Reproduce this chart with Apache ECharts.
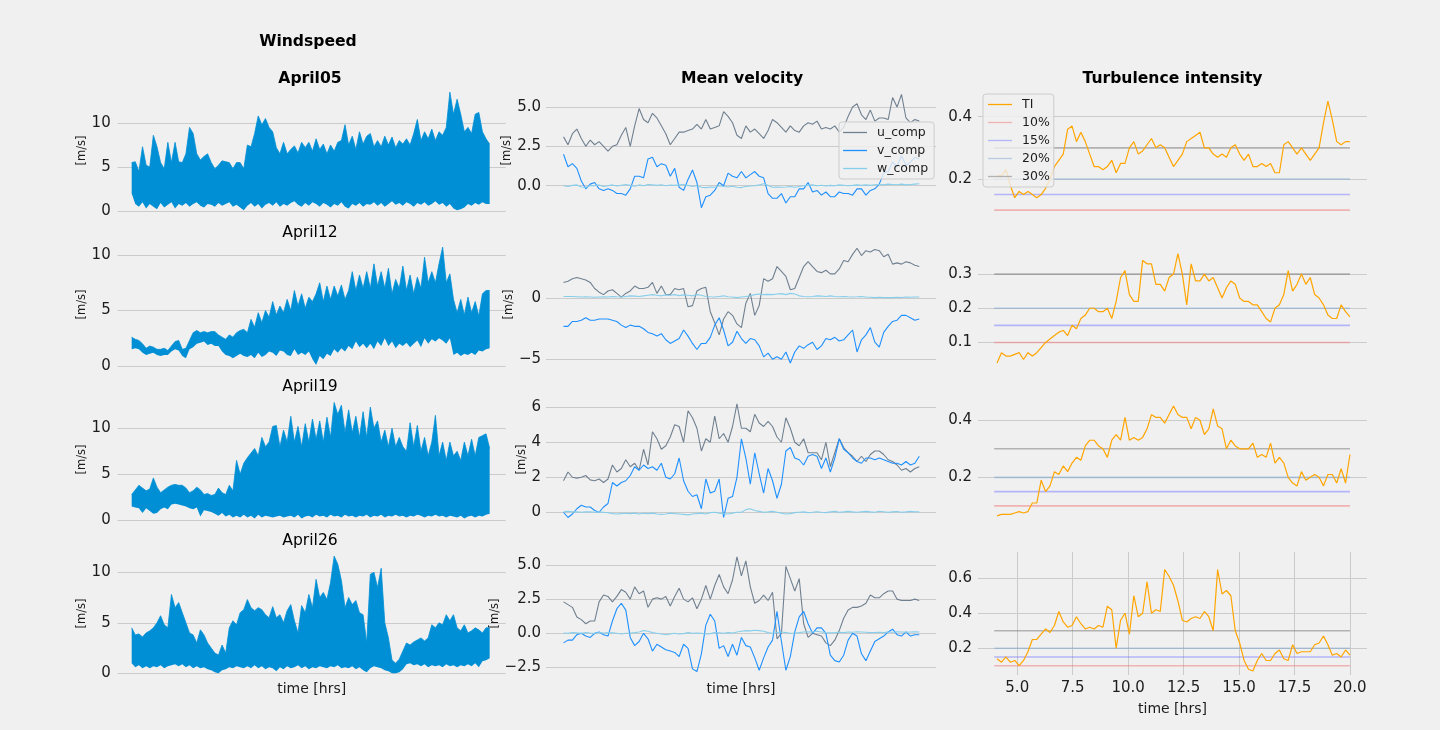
<!DOCTYPE html>
<html>
<head>
<meta charset="utf-8">
<title>Windspeed, mean velocity and turbulence intensity</title>
<script src="https://cdn.jsdelivr.net/npm/echarts@6.0.0/dist/echarts.min.js"></script>
<style>
html,body{margin:0;padding:0;background:#f0f0f0;}
#chart{width:1440px;height:730px;}
</style>
</head>
<body>
<div id="chart"></div>
<script>
// ================= DATA =================
const days = ['April05', 'April12', 'April19', 'April26'];

// Windspeed envelopes (upper / lower edge of the dense signal), evenly spaced in time
const ws05Hi = [5.5,5.6,4.5,7.3,5.2,5.0,8.6,7.3,5.5,4.8,
 7.8,5.5,7.8,5.6,5.5,6.5,9.5,8.8,6.5,5.8,
 6.2,6.5,5.5,4.8,5.2,5.7,5.6,5.5,4.8,5.5,
 5.5,4.8,7.5,7.3,8.8,10.8,9.8,10.5,9.5,9.0,
 7.2,6.5,7.8,6.5,7.0,7.4,6.6,7.8,7.2,7.8,
 6.8,8.2,7.0,7.6,6.5,7.5,6.8,7.8,8.0,9.8,
 7.5,8.5,7.0,9.0,7.6,8.5,8.8,7.3,8.0,7.3,
 8.5,7.5,8.4,7.2,8.0,7.6,8.2,7.5,8.8,10.4,
 8.0,9.0,8.2,9.3,8.0,9.0,8.6,9.5,13.5,11.0,
 12.7,11.0,9.0,9.5,8.8,11.0,11.2,9.0,8.2,7.6];
const ws05Lo = [2.0,0.8,0.5,1.0,0.3,0.8,0.5,0.2,0.9,0.4,
 0.7,1.0,0.3,0.8,0.6,0.9,0.5,0.8,1.0,0.6,
 0.4,0.8,0.7,0.5,0.9,0.6,0.8,1.0,0.5,0.7,
 0.4,0.1,0.6,0.9,0.5,0.8,0.3,0.7,0.9,0.6,
 1.0,0.5,0.8,0.6,0.9,1.1,0.7,0.5,0.9,0.6,
 1.0,0.8,0.5,0.9,0.7,0.4,0.8,0.6,1.0,0.5,
 0.3,0.8,0.6,0.9,0.5,0.8,0.7,1.0,0.6,0.9,
 0.5,0.8,1.1,0.7,0.9,0.6,1.0,0.8,0.5,0.9,
 0.7,1.0,0.6,0.8,1.1,0.7,0.9,0.5,0.8,0.3,
 0.1,0.2,0.4,0.8,0.6,0.9,0.7,1.0,0.8,0.8];

const ws12Hi = [2.6,2.4,2.3,2.0,1.6,1.8,1.7,1.5,1.5,1.6,
 1.4,1.8,2.2,2.3,1.5,1.6,2.3,3.0,3.2,3.0,
 3.1,3.0,3.1,3.1,2.8,2.6,2.4,2.8,2.6,3.0,
 3.2,3.3,3.0,4.2,3.5,4.8,3.9,5.0,4.4,5.8,
 4.6,5.4,4.8,6.0,5.0,6.8,5.4,6.5,5.2,6.2,
 5.8,6.5,7.5,5.8,7.2,6.0,7.2,6.3,7.3,6.0,
 6.8,8.5,6.8,8.2,7.0,8.5,7.0,9.2,7.2,8.5,
 7.0,8.8,6.5,7.8,7.0,9.0,6.8,8.2,6.5,8.0,
 7.0,9.8,7.5,8.5,7.5,9.2,10.7,7.5,8.3,6.0,
 4.8,6.0,4.6,6.2,4.8,5.8,4.5,6.5,6.8,6.8];
const ws12Lo = [1.5,1.6,1.5,1.2,1.0,1.1,1.2,1.0,0.9,1.0,
 1.0,1.3,1.5,1.4,0.9,0.7,1.5,1.7,2.0,2.1,
 2.2,1.9,2.0,1.8,1.8,1.3,1.0,0.9,0.7,0.9,
 1.1,0.9,0.8,1.0,0.7,1.2,0.8,1.0,1.3,1.2,
 0.9,1.4,1.3,1.0,0.9,1.5,1.0,1.2,1.0,1.3,
 0.6,0.1,0.9,0.6,1.1,0.9,1.5,1.2,1.6,1.3,
 1.8,1.5,2.2,1.7,2.0,1.6,2.0,1.5,2.2,1.8,
 2.5,1.8,2.2,1.6,2.0,1.8,2.1,1.7,2.0,2.3,
 1.7,2.5,2.0,2.4,2.2,2.5,2.3,2.0,2.5,1.0,
 1.2,0.9,1.1,1.0,1.2,1.0,1.4,1.3,1.5,1.6];

const ws19Hi = [2.8,3.3,3.8,3.5,3.2,3.4,4.6,3.6,3.0,3.3,
 3.6,3.8,3.9,3.8,3.8,3.5,3.0,3.2,3.6,3.3,
 2.8,2.9,2.7,2.8,3.5,3.0,2.8,3.8,3.2,6.5,
 5.0,6.2,6.8,7.3,7.8,7.0,9.0,8.0,8.5,10.2,
 10.3,8.0,9.8,8.5,11.3,8.5,10.2,8.0,10.5,8.5,
 11.0,8.8,10.8,8.5,11.2,9.0,12.8,11.5,12.5,9.5,
 12.0,9.5,11.3,9.0,11.8,9.0,12.3,10.0,10.8,8.5,
 9.8,8.0,10.0,8.0,9.0,8.0,7.5,10.6,8.0,10.3,
 7.5,9.0,7.0,8.5,11.4,7.0,8.5,6.5,8.5,7.0,
 7.5,6.5,8.5,7.0,8.8,7.0,9.0,9.2,9.4,7.8];
const ws19Lo = [1.5,1.4,1.3,0.8,1.3,1.0,0.7,0.8,1.2,1.4,
 1.2,1.7,1.8,1.7,1.6,1.5,1.3,1.2,1.4,0.4,
 1.1,1.0,0.9,0.7,0.5,0.8,0.4,0.6,0.3,0.5,
 0.3,0.6,0.3,0.5,0.2,0.6,0.3,0.5,0.4,0.3,
 0.4,0.5,0.3,0.4,0.5,0.3,0.6,0.2,0.4,0.5,
 0.3,0.6,0.4,0.5,0.3,0.6,0.4,0.5,0.3,0.6,
 0.4,0.5,0.3,0.5,0.4,0.6,0.3,0.5,0.4,0.6,
 0.3,0.5,0.4,0.6,0.4,0.5,0.3,0.5,0.4,0.6,
 0.5,0.3,0.5,0.4,0.6,0.4,0.5,0.3,0.5,0.4,
 0.3,0.5,0.2,0.4,0.5,0.3,0.5,0.4,0.6,0.7];

const ws26Hi = [4.5,3.8,3.9,3.6,4.0,4.2,4.5,5.0,5.7,4.8,
 4.5,7.8,6.5,7.0,6.0,5.0,4.0,3.8,3.0,4.3,
 3.8,3.0,2.5,2.0,1.8,2.8,2.0,4.5,5.2,4.8,
 6.0,6.3,7.3,6.5,6.2,6.5,6.3,5.8,5.5,6.6,
 5.5,5.8,5.0,6.2,6.8,5.2,4.0,6.7,6.0,7.8,
 6.5,9.3,7.5,8.0,7.3,9.0,11.6,10.8,9.2,6.5,
 7.5,6.8,7.2,6.0,5.8,3.0,9.8,10.0,8.5,10.4,
 5.0,3.5,1.3,1.0,1.4,2.2,3.0,2.8,3.1,3.3,
 3.5,3.2,3.5,4.8,4.5,5.0,4.8,5.8,5.2,5.8,
 4.5,4.2,4.8,4.0,4.2,4.5,4.3,4.0,4.5,4.5];
const ws26Lo = [1.0,0.6,0.8,0.5,0.7,0.5,0.7,0.6,0.8,0.5,
 0.7,0.8,0.9,0.7,0.9,0.6,0.8,0.5,0.7,0.5,
 0.6,0.4,0.3,0.1,0.0,0.3,0.4,0.6,0.5,0.7,
 0.6,0.5,0.7,0.5,0.8,0.5,0.7,0.4,0.6,0.5,
 0.2,0.6,0.4,0.7,0.5,0.6,0.8,0.5,0.7,0.4,
 0.6,0.5,0.7,0.6,0.5,0.7,0.6,0.8,0.5,0.6,
 0.5,0.7,0.4,0.6,0.3,0.1,0.5,0.7,0.6,0.5,
 0.3,0.2,0.0,0.0,0.1,0.4,0.9,1.0,0.8,0.9,
 0.7,0.9,0.6,0.8,0.7,0.8,0.6,0.9,0.7,0.8,
 0.6,0.8,0.7,0.9,0.7,1.0,0.6,1.2,1.3,1.5];

// Mean velocity components
const u05 = [3.1,2.6,3.3,3.6,3.0,2.5,2.9,2.6,2.8,2.5, 2.2,2.5,2.6,3.2,3.7,2.5,3.8,4.9,4.2,4.0,
 4.6,4.3,3.8,3.3,2.6,3.0,3.4,3.4,3.5,3.6, 3.9,3.6,4.2,3.6,3.7,3.8,4.7,4.4,4.0,3.2,
 3.0,3.8,3.4,3.6,3.3,3.0,3.5,4.2,4.0,3.7, 3.4,3.8,3.5,3.4,3.8,4.0,3.9,4.1,3.6,3.7,
 3.6,3.8,3.4,3.7,4.4,5.0,5.2,4.5,4.2,4.8, 4.1,4.3,4.3,4.2,5.6,5.0,5.8,4.3,4.0,4.2, 4.1];
const v05 = [2.0,1.2,1.4,1.1,0.3,-0.2,0.1,0.2,-0.2,-0.3, -0.2,-0.3,-0.5,-0.5,-0.6,-0.2,0.6,0.6,0.5,1.7,
 1.8,1.2,1.4,1.3,0.6,1.1,-0.1,-0.3,0.4,1.0, 0.2,-1.4,-0.7,-0.6,-0.3,0.2,0.0,0.8,0.6,0.5,
 0.9,0.5,0.7,0.9,0.6,0.5,-0.5,-0.8,-0.8,-0.5, -1.1,-0.7,-0.7,-0.2,-0.2,0.2,-0.4,-0.3,-0.6,-0.4,
 -0.7,-0.7,-0.4,-0.5,-0.5,-0.6,-0.2,-0.2,-0.6,-0.3, -0.2,0.1,0.8,0.9,1.5,1.2,1.9,1.3,1.5,1.8, 1.7];
const w05 = [0.0,-0.05,0.02,0.05,-0.08,-0.1,0.02,0.0,0.05,-0.05, 0.0,0.05,-0.02,0.03,0.08,0.02,-0.03,0.05,0.0,0.08,
 0.05,0.02,0.06,0.0,0.04,0.02,0.05,0.08,0.02,-0.05, 0.0,-0.1,-0.12,-0.08,-0.1,0.0,-0.05,-0.08,-0.03,-0.1,
 -0.12,-0.05,-0.02,0.0,0.05,0.12,0.02,-0.1,-0.08,-0.1, -0.08,-0.05,-0.1,-0.05,0.0,0.02,0.05,0.0,0.03,-0.02,
 0.02,0.0,0.05,0.03,0.0,0.02,0.05,0.03,0.05,0.02, 0.06,0.08,0.05,0.1,0.08,0.06,0.1,0.05,0.08,0.1, 0.12];

const u12 = [1.3,1.4,1.6,1.7,1.6,1.5,1.3,0.8,0.5,0.3, 0.6,0.7,0.4,0.1,0.4,0.6,1.0,0.8,0.8,0.9,
 1.3,0.4,1.0,0.3,0.3,0.8,0.7,0.8,-0.7,-0.6, 0.6,0.8,0.9,-1.1,-2.0,-3.0,-1.7,-1.1,-1.4,-2.1,
 -2.4,-0.4,0.4,-1.4,-0.6,1.6,1.4,1.6,2.6,2.2, 1.8,0.7,0.8,1.7,2.6,3.0,2.6,2.2,2.1,2.3,
 2.0,2.0,2.4,3.1,3.0,3.6,4.1,3.5,3.9,3.8, 4.0,3.9,3.4,3.6,2.8,2.9,2.8,3.0,2.9,2.7, 2.6];
const v12 = [-2.3,-2.3,-1.9,-1.9,-1.8,-1.6,-1.8,-1.8,-1.7,-1.7, -1.7,-1.8,-1.9,-2.2,-2.4,-2.2,-2.3,-2.3,-2.5,-2.8,
 -2.9,-3.1,-2.9,-3.4,-3.7,-3.5,-3.3,-2.6,-3.1,-3.7, -4.2,-3.7,-3.7,-3.2,-2.2,-1.6,-2.6,-3.9,-3.6,-2.7,
 -3.3,-3.7,-3.3,-3.4,-3.9,-4.8,-4.5,-5.0,-4.8,-5.0, -4.4,-5.3,-4.4,-3.9,-4.1,-3.8,-3.6,-4.2,-3.9,-3.3,
 -3.4,-3.2,-3.5,-3.4,-3.0,-2.6,-4.4,-3.4,-3.0,-2.4, -3.6,-4.0,-2.8,-2.3,-1.9,-1.8,-1.4,-1.4,-1.6,-1.8, -1.7];
const w12 = [0.15,0.15,0.14,0.12,0.1,0.12,0.1,0.08,0.1,0.12, 0.1,0.15,0.12,0.1,0.15,0.2,0.18,0.15,0.2,0.25,
 0.3,0.25,0.2,0.28,0.25,0.3,0.22,0.28,0.25,0.2, 0.3,0.25,0.15,0.12,0.1,0.15,0.2,0.12,0.1,0.05,
 0.1,0.15,0.2,0.3,0.35,0.3,0.32,0.3,0.35,0.38, 0.3,0.4,0.35,0.2,0.15,0.12,0.15,0.2,0.18,0.15,
 0.2,0.15,0.12,0.15,0.12,0.1,0.12,0.15,0.1,0.08, 0.05,0.08,0.05,0.06,0.05,0.08,0.06,0.1,0.08,0.1, 0.1];

const u19 = [1.8,2.3,2.0,1.95,2.0,2.1,1.85,1.8,1.9,1.7, 1.9,2.7,2.3,2.5,3.0,2.6,2.8,2.4,3.6,2.7,
 4.6,4.2,3.6,3.8,4.3,5.0,4.9,4.0,5.8,5.4, 4.8,3.5,4.2,4.0,5.5,4.2,4.5,4.0,4.9,6.2,
 4.8,4.8,4.6,5.6,5.1,4.9,5.2,4.9,4.3,4.0, 5.4,4.8,4.0,3.8,4.2,3.4,3.4,3.4,3.0,4.0,
 2.6,3.4,4.2,3.7,3.4,3.2,2.9,3.2,2.9,3.3, 3.5,3.5,3.3,3.0,2.9,2.7,2.4,2.5,2.3,2.5, 2.6];
const v19 = [0.0,-0.3,-0.1,0.2,0.4,0.3,0.3,0.1,0.0,0.3, 0.5,1.7,1.5,1.7,1.8,2.1,2.6,2.4,2.7,2.5,
 2.6,2.4,2.8,2.0,1.9,2.2,3.1,1.8,1.2,0.9, 1.0,0.2,1.9,1.1,1.2,1.9,-0.3,0.8,0.9,2.0,
 4.2,3.1,1.6,3.4,2.2,1.1,2.5,1.8,0.8,1.6, 3.5,3.7,3.1,3.0,2.7,3.2,3.3,3.2,2.5,3.1,
 2.3,3.1,4.2,3.6,3.4,3.1,2.9,2.8,3.1,3.1, 3.0,3.1,3.0,2.9,2.8,2.8,2.7,2.9,2.7,2.8, 3.2];
const w19 = [0.03,0.05,0.02,0.03,0.0,0.02,0.03,0.0,0.02,0.0, -0.03,-0.08,-0.1,-0.08,-0.06,-0.08,-0.05,-0.1,-0.06,-0.08,
 -0.05,-0.1,-0.12,-0.1,-0.05,-0.08,-0.1,-0.12,-0.15,-0.1, -0.08,-0.05,-0.1,-0.02,0.0,-0.05,-0.08,-0.1,-0.05,0.0,
 0.0,0.15,0.2,0.1,0.05,0.0,0.02,0.05,0.0,-0.05, -0.1,-0.08,-0.02,0.0,0.02,-0.02,0.0,0.03,0.0,-0.02,
 0.02,0.05,0.0,0.02,0.05,0.02,0.0,0.03,0.05,0.02, 0.0,0.06,0.03,0.0,0.02,0.04,0.0,0.02,0.05,0.03, 0.02];

const u26 = [2.3,2.1,1.9,1.2,1.0,0.7,0.9,0.9,2.3,2.8, 2.7,2.3,2.7,3.2,3.0,2.5,3.4,2.9,3.1,1.9,
 2.5,2.6,2.5,2.7,2.0,2.7,3.3,2.5,2.3,2.6, 1.8,2.5,3.5,2.5,3.5,4.3,3.4,2.9,3.9,5.6,
 4.2,5.3,3.4,2.2,2.4,2.8,2.4,3.0,-0.4,0.0, 4.9,4.0,3.1,4.0,0.7,-0.3,0.0,-0.1,-0.2,-0.7,
 -0.9,-0.5,0.2,1.1,1.7,1.9,1.9,2.0,2.2,2.8, 2.6,2.6,2.9,3.1,3.1,2.5,2.4,2.4,2.4,2.5, 2.4];
const v26 = [-0.7,-0.5,-0.5,-0.1,0.0,-0.2,-0.3,0.0,0.1,-0.1, -0.2,0.9,1.8,2.2,1.7,-0.3,-0.9,-0.6,0.0,-0.4,
 -1.3,-0.8,-1.0,-1.2,-1.3,-1.4,-1.7,-0.8,-1.1,-2.6, -2.8,-1.5,0.6,1.4,0.9,-1.1,-0.9,-1.7,-0.8,-1.6,
 -0.3,-0.9,-1.0,-1.8,-2.7,-1.8,-1.0,-0.5,1.6,-0.6, -2.7,-1.7,0.1,1.2,1.6,0.7,0.0,0.4,0.4,0.0,
 -1.6,-2.0,-2.1,-1.6,-0.5,0.0,-0.2,-1.5,-2.0,-1.3, -0.6,-0.4,-0.2,0.1,0.3,-0.1,-0.2,0.1,-0.2,-0.1, -0.1];
const w26 = [0.02,0.0,0.05,0.03,0.0,0.05,0.02,0.0,0.05,0.02, 0.05,0.03,0.0,-0.05,0.0,0.02,0.05,0.1,0.2,0.15,
 0.05,0.0,-0.05,-0.1,-0.05,0.0,-0.05,-0.02,0.05,0.0, 0.02,0.0,-0.05,-0.02,0.05,0.03,0.0,0.05,0.02,0.1,
 0.15,0.2,0.18,0.22,0.2,0.15,0.05,0.0,0.05,0.1, 0.05,0.0,0.02,0.05,0.1,0.12,0.1,0.15,0.1,0.05,
 0.03,0.05,0.08,0.05,0.1,0.08,0.12,0.1,0.08,0.05, 0.06,0.08,0.05,0.1,0.08,0.12,0.1,0.08,0.1,0.12, 0.1];

// Turbulence intensity
const ti05 = [0.21,0.21,0.23,0.18,0.14,0.16,0.15,0.16,0.15,0.14, 0.15,0.17,0.20,0.24,0.26,0.28,0.36,0.37,0.32,0.35,
 0.32,0.28,0.24,0.24,0.23,0.24,0.26,0.22,0.25,0.25, 0.30,0.32,0.28,0.29,0.31,0.33,0.30,0.31,0.30,0.27,
 0.24,0.26,0.28,0.32,0.33,0.34,0.35,0.30,0.30,0.28, 0.27,0.28,0.27,0.30,0.31,0.28,0.26,0.28,0.24,0.24,
 0.25,0.24,0.25,0.22,0.22,0.31,0.32,0.30,0.28,0.30, 0.28,0.26,0.28,0.30,0.38,0.45,0.39,0.32,0.31,0.32, 0.32];
const ti12 = [0.04,0.07,0.06,0.06,0.065,0.07,0.05,0.07,0.06,0.07, 0.085,0.10,0.11,0.12,0.13,0.135,0.12,0.15,0.14,0.17,
 0.18,0.20,0.20,0.19,0.19,0.20,0.17,0.22,0.29,0.31, 0.24,0.22,0.22,0.34,0.33,0.33,0.27,0.27,0.25,0.29,
 0.30,0.36,0.30,0.21,0.33,0.28,0.28,0.30,0.28,0.29, 0.26,0.23,0.26,0.28,0.27,0.23,0.22,0.22,0.21,0.21,
 0.19,0.17,0.16,0.20,0.21,0.24,0.31,0.25,0.27,0.30, 0.27,0.29,0.24,0.23,0.21,0.18,0.17,0.17,0.21,0.19, 0.175];
const ti19 = [0.065,0.07,0.07,0.07,0.075,0.08,0.075,0.08,0.11,0.11, 0.19,0.15,0.17,0.22,0.21,0.24,0.22,0.25,0.27,0.26,
 0.31,0.33,0.33,0.31,0.30,0.27,0.33,0.35,0.33,0.41, 0.33,0.34,0.33,0.34,0.37,0.42,0.41,0.41,0.39,0.42,
 0.45,0.42,0.41,0.41,0.37,0.41,0.40,0.35,0.37,0.44, 0.38,0.37,0.30,0.33,0.31,0.30,0.30,0.30,0.32,0.27,
 0.28,0.27,0.32,0.25,0.27,0.25,0.20,0.18,0.17,0.22, 0.19,0.20,0.21,0.20,0.17,0.21,0.21,0.18,0.23,0.18, 0.28];
const ti26 = [0.14,0.12,0.15,0.12,0.13,0.10,0.13,0.18,0.25,0.25, 0.28,0.31,0.29,0.33,0.41,0.35,0.32,0.33,0.38,0.34,
 0.31,0.32,0.31,0.33,0.32,0.44,0.42,0.20,0.36,0.40, 0.28,0.50,0.38,0.40,0.58,0.40,0.42,0.41,0.65,0.61,
 0.56,0.47,0.36,0.35,0.37,0.38,0.37,0.41,0.38,0.30, 0.65,0.51,0.53,0.50,0.30,0.23,0.13,0.08,0.07,0.13,
 0.17,0.13,0.13,0.17,0.19,0.14,0.13,0.22,0.17,0.18, 0.18,0.18,0.22,0.23,0.27,0.22,0.16,0.17,0.15,0.19, 0.16];

const thresholdValues = [0.1, 0.15, 0.2, 0.3];
const thresholdNames = ['10%', '15%', '20%', '30%'];

// time spans (hours) of each kind of record
const wsSpan = [3.86, 20.0];
const mvSpan = [4.02, 20.06];
const tiSpan = [4.09, 20.0];
const thSpan = [3.96, 20.0];

// tick labels
const wsTicks = [0, 5, 10];
const mvTicks05 = [0, 2.5, 5];
const mvTicks12 = [-5, 0];
const mvTicks19 = [0, 2, 4, 6];
const mvTicks26 = [-2.5, 0, 2.5, 5];
const tiTicks05 = [0.2, 0.4];
const tiTicks12 = [0.1, 0.2, 0.3];
const tiTicks19 = [0.2, 0.4];
const tiTicks26 = [0.2, 0.4, 0.6];
const timeTicks = [5, 7.5, 10, 12.5, 15, 17.5, 20];

// ================= LAYOUT / STYLE =================
const FONT = 'DejaVu Sans';
const TXT = '#1c1c1c';
const GRIDC = '#cbcbcb';
const HOUR_MS = 3600000; // windspeed panels use a time-typed x axis (hours -> ms) so stacking runs on y
const colLeft = [117.7, 546, 978];
const colWidth = [388, 390, 389];
const rowTop = [89, 243, 398, 552];
const rowHeight = 123;
const xMin = 3.23, pxPerHr = 22.18;
const yRange = [
  [[-0.11, 13.86], [0, 11.08], [-0.08, 13.29], [-0.17, 12.01]],
  [[-1.67, 6.14], [-5.55, 4.53], [-0.50, 6.53], [-3.05, 5.95]],
  [[0.094, 0.489], [0.031, 0.391], [0.047, 0.478], [0.047, 0.750]]
];
const yTicks = [
  [wsTicks, wsTicks, wsTicks, wsTicks],
  [mvTicks05, mvTicks12, mvTicks19, mvTicks26],
  [tiTicks05, tiTicks12, tiTicks19, tiTicks26]
];
const yDec = [[0,0,0,0],[1,0,0,1],[1,1,1,1]];
const yNameGap = [[25,25,25,25],[29,25.5,11.5,39],[0,0,0,0]];
const labelMargin = [7, 5, 6];

const wsHi = [ws05Hi, ws12Hi, ws19Hi, ws26Hi];
const wsLo = [ws05Lo, ws12Lo, ws19Lo, ws26Lo];
const uComp = [u05, u12, u19, u26];
const vComp = [v05, v12, v19, v26];
const wComp = [w05, w12, w19, w26];
const tiVals = [ti05, ti12, ti19, ti26];

const COL_WS = '#008fd5';
const COL_U = '#708090', COL_V = '#1e90ff', COL_W = '#87ceeb', COL_TI = '#ffa500';
const thresholdColors = ['rgba(240,128,128,0.55)', 'rgba(120,120,255,0.5)', 'rgba(110,160,210,0.45)', 'rgba(128,128,128,0.55)'];

function times(n, span) {
  const a = [];
  for (let i = 0; i < n; i++) a.push(span[0] + (span[1] - span[0]) * i / (n - 1));
  return a;
}
function toPairs(vals, span) {
  const t = times(vals.length, span);
  return vals.map((v, i) => [t[i], v]);
}
function fmt(v, d) {
  const s = Math.abs(v) < 1e-9 ? (0).toFixed(d) : v.toFixed(d);
  return s.replace('-', '\u2212');
}

const grids = [], xAxes = [], yAxes = [], series = [];
for (let c = 0; c < 3; c++) {
  for (let r = 0; r < 4; r++) {
    const g = c * 4 + r;
    grids.push({ left: colLeft[c], top: rowTop[r], width: colWidth[c], height: rowHeight, containLabel: false });

    const xMax = xMin + colWidth[c] / pxPerHr;
    const xa = {
      gridIndex: g, type: c === 0 ? 'time' : 'value',
      min: c === 0 ? xMin * HOUR_MS : xMin, max: c === 0 ? xMax * HOUR_MS : xMax,
      axisLine: { show: false }, axisTick: { show: false }, axisLabel: { show: false }, splitLine: { show: false }
    };
    if (r === 3) {
      xa.name = 'time [hrs]';
      xa.nameLocation = 'middle';
      xa.nameGap = c === 2 ? 27 : 7.5;
      xa.nameTextStyle = { fontSize: 14, color: TXT, fontFamily: FONT };
      if (c === 2) {
        xa.axisTick = { show: false, customValues: timeTicks };
        xa.axisLabel = { show: true, customValues: timeTicks, formatter: v => fmt(v, 1), fontSize: 15, color: TXT, margin: 6, fontFamily: FONT };
        xa.splitLine = { show: true, lineStyle: { color: GRIDC, width: 1 } };
      }
    }
    xAxes.push(xa);

    const tk = yTicks[c][r], dec = yDec[c][r];
    const ya = {
      gridIndex: g, type: 'value', min: yRange[c][r][0], max: yRange[c][r][1],
      axisLine: { show: false },
      axisTick: { show: false, customValues: tk },
      axisLabel: { customValues: tk, formatter: v => fmt(v, dec), fontSize: 15, color: TXT, margin: labelMargin[c], fontFamily: FONT },
      splitLine: { show: true, lineStyle: { color: GRIDC, width: 1 } }
    };
    if (c < 2) {
      ya.name = '[m/s]';
      ya.nameLocation = 'middle';
      ya.nameRotate = 90;
      ya.nameGap = yNameGap[c][r];
      ya.nameTextStyle = { fontSize: 11.5, color: TXT, fontFamily: FONT };
    }
    yAxes.push(ya);

    if (c === 0) {
      const hi = wsHi[r], lo = wsLo[r];
      const n = Math.min(hi.length, lo.length);
      const t = times(n, wsSpan).map(h => h * HOUR_MS);
      series.push({
        type: 'line', name: 'ws_low_' + days[r], xAxisIndex: g, yAxisIndex: g, stack: 'ws' + r,
        data: lo.slice(0, n).map((v, i) => [t[i], v]), showSymbol: false, symbol: 'none',
        lineStyle: { width: 0, opacity: 0 }, silent: true, z: 2
      });
      series.push({
        type: 'line', name: 'Windspeed ' + days[r], xAxisIndex: g, yAxisIndex: g, stack: 'ws' + r,
        data: hi.slice(0, n).map((v, i) => [t[i], v - lo[i]]), showSymbol: false, symbol: 'none',
        color: COL_WS, lineStyle: { width: 0.8, color: COL_WS }, areaStyle: { color: COL_WS, opacity: 1 }, z: 2
      });
    } else if (c === 1) {
      [['u_comp', uComp[r], COL_U], ['v_comp', vComp[r], COL_V], ['w_comp', wComp[r], COL_W]].forEach(s => {
        series.push({
          type: 'line', name: s[0], xAxisIndex: g, yAxisIndex: g, data: toPairs(s[1], mvSpan),
          showSymbol: false, symbol: 'none', color: s[2], itemStyle: { color: s[2] },
          lineStyle: { width: 1.1, color: s[2] }, z: 2
        });
      });
    } else {
      series.push({
        type: 'line', name: 'TI', xAxisIndex: g, yAxisIndex: g, data: toPairs(tiVals[r], tiSpan),
        showSymbol: false, symbol: 'none', color: COL_TI, itemStyle: { color: COL_TI },
        lineStyle: { width: 1.2, color: COL_TI }, z: 3
      });
      thresholdValues.forEach((v, k) => {
        series.push({
          type: 'line', name: thresholdNames[k], xAxisIndex: g, yAxisIndex: g,
          data: [[thSpan[0], v], [thSpan[1], v]], showSymbol: false, symbol: 'none',
          color: thresholdColors[k], itemStyle: { color: thresholdColors[k] },
          lineStyle: { width: 1.6, color: thresholdColors[k] }, z: 2
        });
      });
    }
  }
}

function titleText(text, x, y, bold) {
  return {
    type: 'text', x: x, y: y, silent: true,
    style: {
      text: text, font: (bold ? 'bold ' : '') + '15.6px "DejaVu Sans"', fill: '#000',
      align: 'center', verticalAlign: 'middle', textAlign: 'center', textVerticalAlign: 'middle'
    }
  };
}

const legendCommon = {
  orient: 'vertical', icon: 'rect', itemWidth: 24, itemHeight: 1.3, itemGap: 5,
  backgroundColor: 'rgba(240,240,240,0.8)', borderColor: '#cccccc', borderWidth: 1, borderRadius: 3,
  selectedMode: false, textStyle: { fontSize: 12.5, color: TXT, fontFamily: FONT, padding: [0, 0, 0, 5] }
};

const option = {
  animation: false,
  backgroundColor: '#f0f0f0',
  textStyle: { fontFamily: FONT },
  grid: grids,
  xAxis: xAxes,
  yAxis: yAxes,
  legend: [
    Object.assign({}, legendCommon, { data: ['u_comp', 'v_comp', 'w_comp'], left: 839, top: 122, padding: [4, 6, 4, 4] }),
    Object.assign({}, legendCommon, { data: ['TI', '10%', '15%', '20%', '30%'], left: 983, top: 94, padding: [4, 4, 4, 5] })
  ],
  graphic: [
    titleText('Windspeed', 308, 42, true),
    titleText(days[0], 310, 78.5, true),
    titleText('Mean velocity', 742, 78.5, true),
    titleText('Turbulence intensity', 1172.5, 78.5, true),
    titleText(days[1], 310, 232.5, false),
    titleText(days[2], 310, 386.5, false),
    titleText(days[3], 310, 540.5, false)
  ],
  series: series
};

const chart = echarts.init(document.getElementById('chart'), null, { renderer: 'canvas' });
chart.setOption(option);
</script>
</body>
</html>
